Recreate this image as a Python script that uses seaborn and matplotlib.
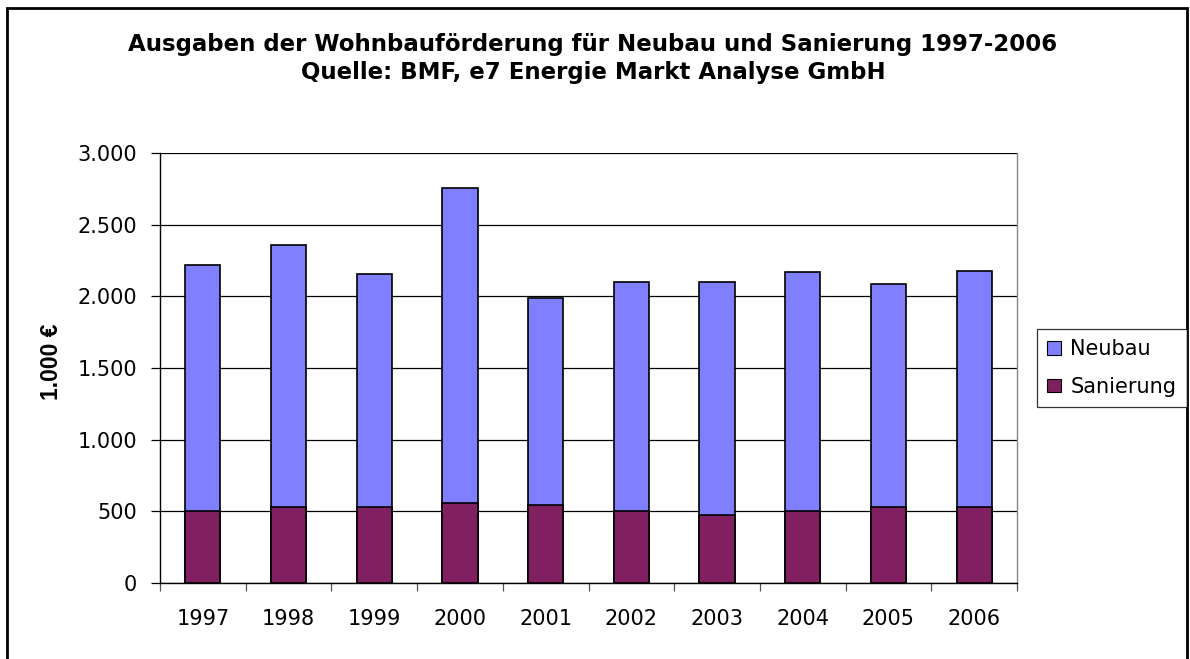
import numpy as np
import pandas as pd
import matplotlib
matplotlib.use("Agg")
import matplotlib.pyplot as plt
import seaborn as sns
from matplotlib.patches import Patch, Rectangle

years = ["1997", "1998", "1999", "2000", "2001", "2002", "2003", "2004", "2005", "2006"]
sanierung = [500, 530, 530, 560, 545, 505, 475, 505, 530, 530]
neubau = [1720, 1830, 1625, 2195, 1445, 1595, 1625, 1665, 1555, 1650]

color_neubau = "#8080FF"
color_sanierung = "#802060"

df = pd.DataFrame({"Jahr": years, "Neubau": neubau, "Sanierung": sanierung})
df["Gesamt"] = df["Neubau"] + df["Sanierung"]

sns.set_style("white")
plt.rcParams['font.family'] = ['DejaVu Sans']
plt.rcParams['text.color'] = 'black'
plt.rcParams['xtick.color'] = 'black'
plt.rcParams['ytick.color'] = 'black'
plt.rcParams['axes.labelcolor'] = 'black'

fig = plt.figure(figsize=(11.9, 6.59), dpi=100)
ax = fig.add_axes([160 / 1190, 1 - 583 / 659, (1017 - 160) / 1190, (583 - 153) / 659])

# Neubau stacked on top of Sanierung: draw totals first, then Sanierung over them
sns.barplot(data=df, x="Jahr", y="Gesamt", color=color_neubau, saturation=1,
            width=0.41, edgecolor="black", linewidth=1.2, ax=ax, zorder=3)
sns.barplot(data=df, x="Jahr", y="Sanierung", color=color_sanierung, saturation=1,
            width=0.41, edgecolor="black", linewidth=1.2, ax=ax, zorder=3)

ax.set_ylim(0, 3000)
ax.set_xlim(-0.5, len(years) - 0.5)
ax.set_yticks(np.arange(0, 3001, 500))
ax.set_yticklabels([f"{v:,}".replace(",", ".") for v in range(0, 3001, 500)], fontsize=15)
ax.yaxis.grid(True, color="black", linewidth=0.9, zorder=0)
ax.set_axisbelow(True)
ax.tick_params(axis="y", length=6.5, width=0.9, direction="out", pad=10, left=True)
ax.set_xticks(np.arange(len(years)))
ax.set_xticklabels(years, fontsize=15)
ax.tick_params(axis="x", which="major", length=0, pad=19)
ax.set_xticks(np.arange(-0.5, len(years)), minor=True)
ax.tick_params(axis="x", which="minor", length=6, width=0.9, direction="out", bottom=True, color="#555555")
ax.set_xlabel("")
ax.set_ylabel("")
for side in ["left", "bottom"]:
    ax.spines[side].set_color("black")
    ax.spines[side].set_linewidth(1.0)
ax.spines["top"].set_visible(False)
ax.spines["right"].set_color("#888888")
ax.spines["right"].set_linewidth(1.0)

fig.text(52 / 1190, 1 - 362 / 659, "1.000 €", rotation=90, ha="center", va="center",
         fontsize=16.5, fontweight="bold", family="Liberation Sans")

fig.text(593 / 1190, 1 - 45 / 659, "Ausgaben der Wohnbauförderung für Neubau und Sanierung 1997-2006",
         ha="center", va="center", fontsize=16.5, fontweight="bold")
fig.text(593 / 1190, 1 - 73 / 659, "Quelle: BMF, e7 Energie Markt Analyse GmbH",
         ha="center", va="center", fontsize=16.5, fontweight="bold")

handles = [Patch(facecolor=color_neubau, edgecolor="black", linewidth=0.8, label="Neubau"),
           Patch(facecolor=color_sanierung, edgecolor="black", linewidth=0.8, label="Sanierung")]
leg = fig.legend(handles=handles, loc="center left", bbox_to_anchor=(1037 / 1190, 1 - 368 / 659),
                 fontsize=15, frameon=True, fancybox=False, edgecolor="black",
                 handlelength=0.65, handleheight=0.65, handletextpad=0.45, borderpad=0.5,
                 labelspacing=0.85, borderaxespad=0)
leg.get_frame().set_linewidth(0.9)

fig.patches.append(Rectangle((7 / 1190, -0.05), (1187 - 7) / 1190, 1.05 - 8 / 659,
                             transform=fig.transFigure, fill=False, edgecolor="black",
                             linewidth=2, figure=fig))

fig.savefig("out.png", dpi=100)
